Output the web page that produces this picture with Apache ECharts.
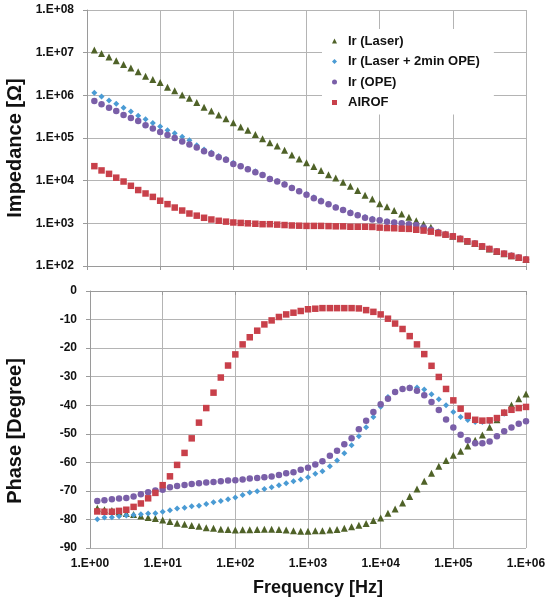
<!DOCTYPE html>
<html>
<head>
<meta charset="utf-8">
<script src="https://cdn.jsdelivr.net/npm/echarts@6/dist/echarts.min.js"></script>
<style>
html,body{margin:0;padding:0;background:#fff;}
#chart{width:551px;height:600px;}
</style>
</head>
<body>
<div id="chart"></div>
<script>
// Frequencies (Hz)
const freq = [
  1.26,1.58,2.00,2.51,3.16,3.98,5.01,6.31,7.94,10,
  12.6,15.8,20.0,25.1,31.6,39.8,50.1,63.1,79.4,100,
  126,158,200,251,316,398,501,631,794,1000,
  1260,1580,2000,2510,3160,3980,5010,6310,7940,10000,
  12600,15800,20000,25100,31600,39800,50100,63100,79400,100000,
  126000,158000,200000,251000,316000,398000,501000,631000,794000,1000000
];
const seriesNames = ['Ir (Laser)', 'Ir (Laser + 2min OPE)', 'Ir (OPE)', 'AIROF'];

// log10 of impedance (Ohm)
const laserLogZ = [
  7.06,6.98,6.90,6.81,6.72,6.64,6.55,6.45,6.37,6.30,6.19,6.11,6.01,5.93,5.83,5.72,5.63,5.54,5.45,5.36,
  5.26,5.18,5.08,4.98,4.89,4.81,4.71,4.60,4.51,4.42,4.33,4.24,4.14,4.06,3.96,3.87,3.77,3.66,3.57,3.46,
  3.39,3.30,3.22,3.14,3.06,2.98,2.91,2.80,2.75,2.70,2.64,2.58,2.53,2.46,2.40,2.34,2.29,2.24,2.20,2.15
];
const laserOpeLogZ = [
  6.06,5.97,5.88,5.80,5.71,5.62,5.52,5.44,5.35,5.27,5.18,5.11,5.03,4.95,4.83,4.73,4.66,4.58,4.51,4.42,
  4.35,4.28,4.22,4.14,4.05,3.99,3.92,3.84,3.76,3.69,3.61,3.54,3.46,3.38,3.32,3.26,3.20,3.15,3.11,3.08,
  3.05,3.02,3.00,2.98,2.96,2.90,2.85,2.78,2.74,2.70,2.64,2.58,2.53,2.46,2.40,2.34,2.29,2.24,2.20,2.15
];
const opeLogZ = [
  5.87,5.79,5.71,5.63,5.54,5.47,5.40,5.30,5.22,5.14,5.07,5.00,4.92,4.85,4.78,4.69,4.63,4.55,4.49,4.39,
  4.34,4.27,4.20,4.13,4.04,3.98,3.91,3.83,3.75,3.67,3.59,3.52,3.45,3.37,3.31,3.24,3.19,3.13,3.09,3.07,
  3.04,3.02,3.00,2.98,2.96,2.90,2.85,2.79,2.74,2.70,2.64,2.58,2.53,2.46,2.40,2.34,2.29,2.24,2.20,2.15
];
const airofLogZ = [
  4.34,4.24,4.16,4.07,3.98,3.88,3.78,3.70,3.62,3.53,3.45,3.37,3.30,3.23,3.18,3.13,3.09,3.06,3.04,3.02,
  3.01,3.00,2.99,2.98,2.98,2.97,2.96,2.95,2.945,2.94,2.94,2.94,2.935,2.93,2.93,2.92,2.92,2.92,2.915,2.90,
  2.89,2.885,2.875,2.87,2.85,2.83,2.805,2.77,2.735,2.695,2.635,2.58,2.525,2.46,2.40,2.34,2.29,2.235,2.195,2.15
];

// Phase (degree)
const laserPhase = [
  -76.1,-76.6,-76.9,-77.4,-77.9,-78.3,-78.8,-79.3,-79.7,-80.2,-80.7,-81.3,-81.7,-82.1,-82.4,-82.9,-83.1,-83.4,-83.5,-83.7,
  -83.6,-83.6,-83.5,-83.4,-83.4,-83.5,-83.7,-84.0,-84.1,-84.1,-84.0,-84.0,-83.7,-83.5,-83.1,-82.6,-82.0,-81.4,-80.4,-79.5,
  -77.8,-76.3,-74.2,-72.0,-69.3,-66.6,-63.8,-61.4,-59.4,-57.5,-56.1,-54.3,-52.3,-50.4,-47.7,-45.1,-42.5,-39.9,-37.7,-36.1
];
const laserOpePhase = [
  -79.9,-79.3,-79.2,-78.9,-78.6,-78.4,-78.2,-77.9,-77.8,-77.3,-76.8,-76.2,-75.9,-75.4,-75.2,-74.6,-74.0,-73.5,-72.9,-72.3,
  -71.4,-70.6,-70.1,-69.3,-68.7,-68.0,-67.3,-66.6,-66.0,-65.2,-64.0,-63.1,-61.4,-59.4,-56.8,-54.0,-50.9,-47.7,-44.1,-40.5,
  -37.1,-35.4,-34.2,-33.8,-33.8,-34.5,-36.2,-37.9,-40.0,-42.4,-44.1,-45.2,-45.9,-45.9,-45.7,-44.7,-43.0,-41.6,-41.0,-40.6
];
const opePhase = [
  -73.5,-73.3,-72.9,-72.7,-72.5,-72.0,-71.2,-70.5,-69.9,-69.6,-68.7,-68.3,-67.9,-67.6,-67.3,-67.1,-66.9,-66.6,-66.4,-66.3,
  -66.0,-65.7,-65.5,-65.2,-65.0,-64.4,-63.8,-63.5,-62.6,-61.9,-60.8,-59.6,-57.7,-55.9,-53.7,-51.6,-48.4,-45.4,-42.4,-39.7,
  -37.7,-35.4,-34.3,-34.0,-34.9,-36.5,-38.9,-41.7,-45.0,-47.8,-50.3,-52.3,-53.3,-53.3,-52.7,-50.9,-49.1,-47.8,-46.5,-45.6
];
const airofPhase = [
  -77.2,-77.3,-77.3,-77.0,-76.6,-75.6,-74.4,-72.6,-70.7,-68.0,-64.9,-60.9,-56.7,-51.6,-46.1,-41.0,-35.6,-30.3,-26.1,-22.2,
  -18.7,-16.2,-13.9,-11.7,-10.3,-9.1,-8.2,-7.6,-7.0,-6.4,-6.2,-6.0,-6.0,-6.0,-6.0,-6.0,-6.1,-6.7,-7.3,-8.2,
  -9.7,-11.4,-13.3,-15.8,-18.7,-22.1,-26.2,-30.1,-34.3,-38.3,-41.2,-43.7,-45.1,-45.4,-45.3,-44.5,-42.6,-41.6,-41.0,-40.6
];

const colors = ['#4f6228', '#4a9bd4', '#7a5fa8', '#c8404a'];
const symbols = ['triangle', 'diamond', 'circle', 'rect'];
const symbolSizes = [7, 6, 6.5, 6.5];

const FONT = '"Liberation Sans", Arial, sans-serif';
const gridColor = '#b4b4b4';

function expLabel(v) {
  const e = Math.round(Math.log10(v));
  return '1.E+' + String(e).padStart(2, '0');
}
function pairs(x, y, toPow) {
  return x.map((f, i) => [f, toPow ? Math.pow(10, y[i]) : y[i]]);
}

const zSets = [laserLogZ, laserOpeLogZ, opeLogZ, airofLogZ];
const pSets = [laserPhase, laserOpePhase, opePhase, airofPhase];

const series = [];
for (let i = 0; i < 4; i++) {
  series.push({
    name: seriesNames[i], type: 'scatter', xAxisIndex: 0, yAxisIndex: 0,
    symbol: symbols[i], symbolSize: symbolSizes[i],
    itemStyle: { color: colors[i], opacity: 1 },
    data: pairs(freq, zSets[i], true), z: 2 + i
  });
}
for (let i = 0; i < 4; i++) {
  series.push({
    name: seriesNames[i], type: 'scatter', xAxisIndex: 1, yAxisIndex: 1,
    symbol: symbols[i], symbolSize: symbolSizes[i],
    itemStyle: { color: colors[i], opacity: 1 },
    data: pairs(freq, pSets[i], false), z: 2 + i
  });
}

const axisLineStyle = { color: '#9a9a9a', width: 1 };
const splitLineStyle = { color: gridColor, width: 1 };
const labelStyle = { fontFamily: FONT, fontWeight: 'bold', fontSize: 12, color: '#111' };

const chart = echarts.init(document.getElementById('chart'), null, { renderer: 'canvas' });
chart.setOption({
  animation: false,
  backgroundColor: '#fff',
  grid: [
    { left: 87, right: 25, top: 10, height: 256 },
    { left: 90, right: 25, top: 291, height: 257 }
  ],
  xAxis: [
    { type: 'log', logBase: 10, gridIndex: 0, min: 1, max: 1e6, splitNumber: 6,
      axisLine: { lineStyle: axisLineStyle }, axisTick: { show: true, length: 4, lineStyle: axisLineStyle },
      axisLabel: { show: false }, splitLine: { show: true, lineStyle: splitLineStyle }, minorTick: { show: false } },
    { type: 'log', logBase: 10, gridIndex: 1, min: 1, max: 1e6, splitNumber: 6,
      axisLine: { lineStyle: axisLineStyle }, axisTick: { show: true, length: 4, lineStyle: axisLineStyle },
      axisLabel: Object.assign({ formatter: expLabel, margin: 10 }, labelStyle),
      splitLine: { show: true, lineStyle: splitLineStyle } }
  ],
  yAxis: [
    { type: 'log', logBase: 10, gridIndex: 0, min: 100, max: 1e8, splitNumber: 6,
      axisLine: { show: true, lineStyle: axisLineStyle }, axisTick: { show: true, length: 4, lineStyle: axisLineStyle },
      axisLabel: Object.assign({ formatter: expLabel, margin: 13 }, labelStyle),
      splitLine: { show: true, lineStyle: splitLineStyle } },
    { type: 'value', gridIndex: 1, min: -90, max: 0, interval: 10,
      axisLine: { show: true, lineStyle: axisLineStyle }, axisTick: { show: true, length: 4, lineStyle: axisLineStyle },
      axisLabel: Object.assign({ margin: 13 }, labelStyle),
      splitLine: { show: true, lineStyle: splitLineStyle } }
  ],
  legend: {
    data: seriesNames,
    orient: 'vertical',
    left: 322, top: 29,
    padding: [5, 14, 5, 10],
    backgroundColor: '#ffffff',
    itemWidth: 5, itemHeight: 5, itemGap: 6.5,
    textStyle: { fontFamily: FONT, fontWeight: 'bold', fontSize: 13, color: '#111', lineHeight: 14, padding: [0, 0, 0, 6] }
  },
  graphic: [
    { type: 'text', x: 15, y: 148, rotation: Math.PI / 2,
      style: { text: 'Impedance [Ω]', font: 'bold 20px ' + FONT, fill: '#111', align: 'center', verticalAlign: 'middle' } },
    { type: 'text', x: 15, y: 431, rotation: Math.PI / 2,
      style: { text: 'Phase [Degree]', font: 'bold 20px ' + FONT, fill: '#111', align: 'center', verticalAlign: 'middle' } },
    { type: 'text', x: 318, y: 588,
      style: { text: 'Frequency [Hz]', font: 'bold 18px ' + FONT, fill: '#111', align: 'center', verticalAlign: 'middle' } }
  ],
  series: series
});
</script>
</body>
</html>
